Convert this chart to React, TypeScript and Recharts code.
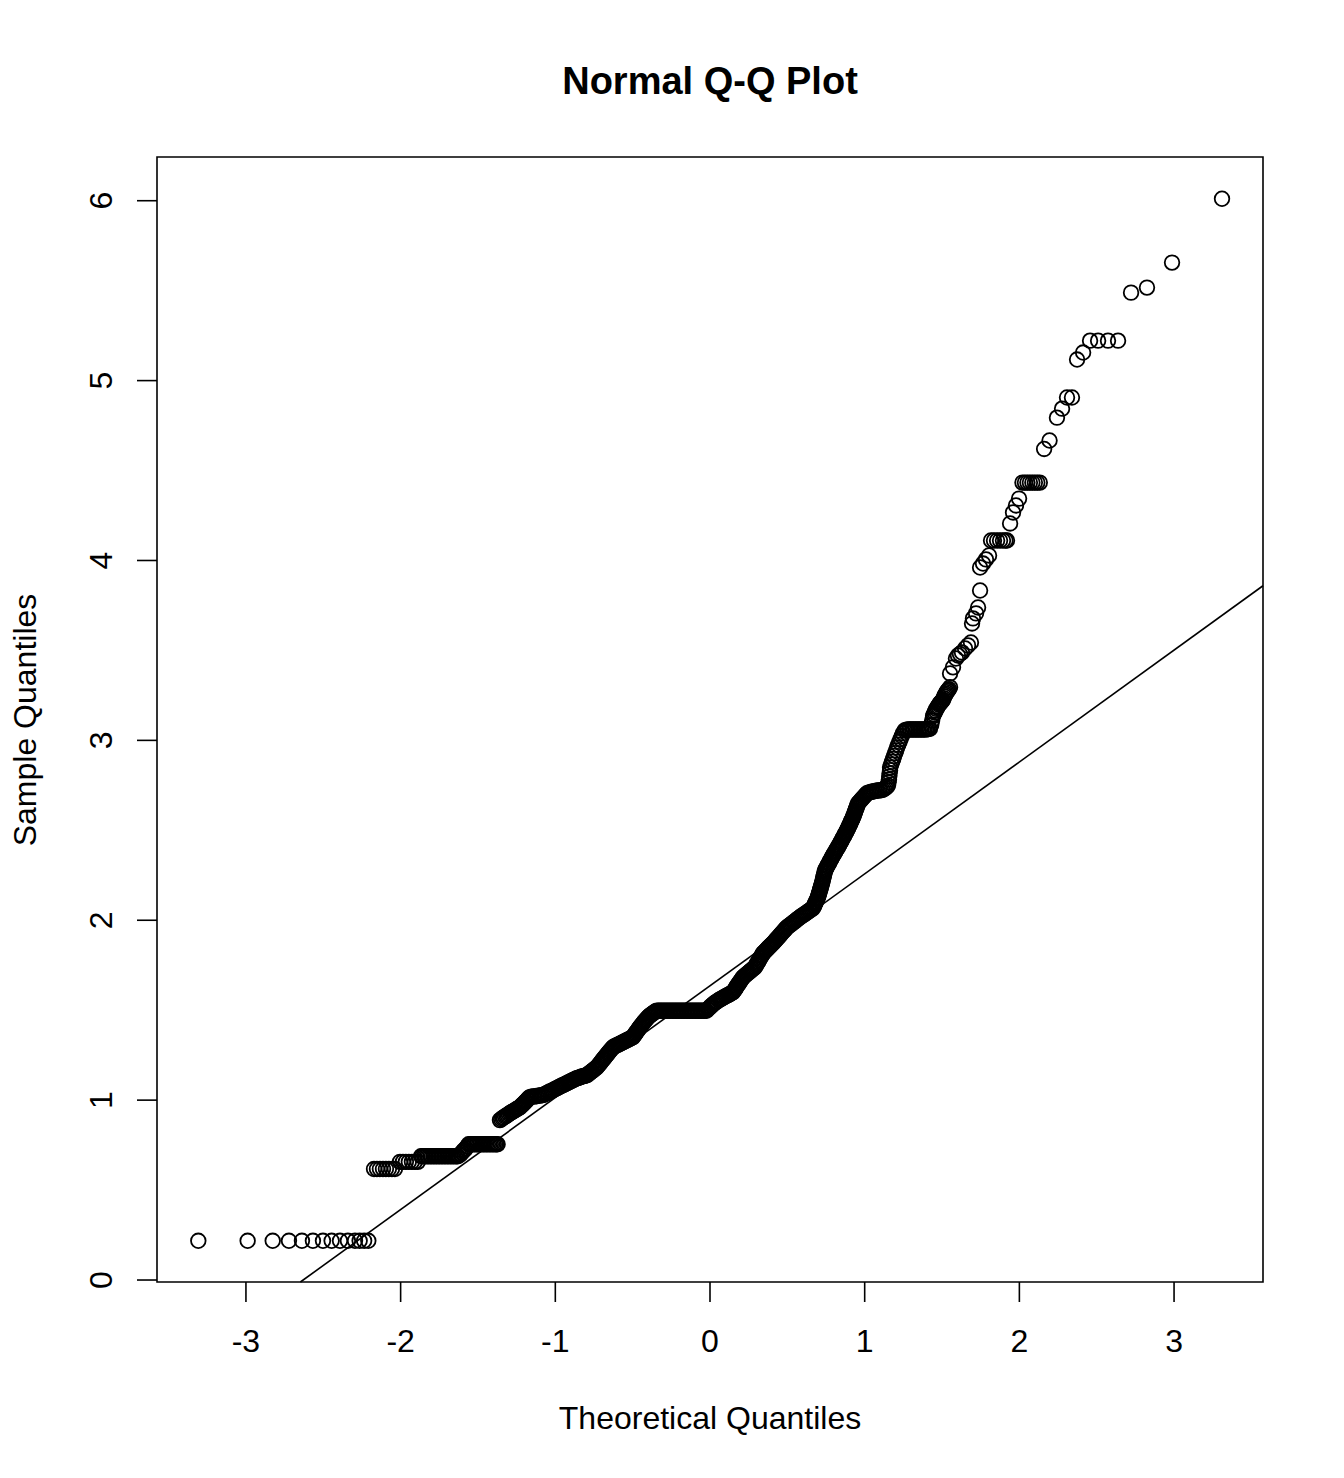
import React from 'react';
import { ScatterChart, Scatter, XAxis, YAxis, ReferenceLine, ReferenceArea } from 'recharts';

const FONT = '"Liberation Sans", Arial, Helvetica, sans-serif';
const W = 1344;
const H = 1478;

const xTicks = [-3, -2, -1, 0, 1, 2, 3];
const yTicks = [0, 1, 2, 3, 4, 5, 6];
const xDomain: [number, number] = [-3.575, 3.575];
const yDomain: [number, number] = [-0.011, 6.243];

// fitted qq line (through the quartiles)
const qqLine = { intercept: 1.636, slope: 0.622 };

// [theoretical quantile, sample quantile]
const lowerTail = [
  [-3.308, 0.218], [-2.989, 0.218], [-2.827, 0.218], [-2.722, 0.218], [-2.638, 0.218],
  [-2.567, 0.218], [-2.502, 0.218], [-2.446, 0.218], [-2.392, 0.218], [-2.341, 0.218],
  [-2.295, 0.218], [-2.265, 0.218], [-2.236, 0.218], [-2.209, 0.218],
];

const lowerSteps = [
  [-2.172, 0.617], [-2.153, 0.617], [-2.134, 0.617], [-2.114, 0.617], [-2.095, 0.617],
  [-2.076, 0.617], [-2.056, 0.617], [-2.037, 0.617],
  [-2.004, 0.657], [-1.985, 0.657], [-1.966, 0.657], [-1.947, 0.657], [-1.927, 0.657],
  [-1.908, 0.657], [-1.889, 0.657],
  [-1.868, 0.688], [-1.858, 0.688], [-1.848, 0.688], [-1.838, 0.688], [-1.828, 0.688],
  [-1.818, 0.688], [-1.808, 0.688], [-1.798, 0.688], [-1.788, 0.688], [-1.778, 0.688],
  [-1.768, 0.688], [-1.758, 0.688], [-1.748, 0.688], [-1.738, 0.688], [-1.728, 0.688],
  [-1.718, 0.688], [-1.708, 0.688], [-1.698, 0.688], [-1.688, 0.688], [-1.678, 0.688],
  [-1.668, 0.688], [-1.658, 0.688], [-1.648, 0.688], [-1.639, 0.688], [-1.630, 0.688],
  [-1.621, 0.694], [-1.612, 0.700], [-1.603, 0.709], [-1.595, 0.718], [-1.586, 0.725],
  [-1.578, 0.732], [-1.569, 0.744],
  [-1.560, 0.755], [-1.550, 0.755], [-1.541, 0.755], [-1.531, 0.755], [-1.522, 0.755],
  [-1.512, 0.755], [-1.503, 0.755], [-1.493, 0.755], [-1.484, 0.755], [-1.474, 0.755],
  [-1.465, 0.755], [-1.455, 0.755], [-1.446, 0.755], [-1.436, 0.755], [-1.427, 0.755],
  [-1.417, 0.755], [-1.408, 0.755], [-1.398, 0.755], [-1.389, 0.755], [-1.381, 0.755],
  [-1.373, 0.755],
];

const lowerBand = [
  [-1.358, 0.889], [-1.350, 0.894], [-1.342, 0.899], [-1.334, 0.904], [-1.325, 0.909],
  [-1.317, 0.914], [-1.309, 0.918], [-1.301, 0.923], [-1.293, 0.928], [-1.285, 0.932],
  [-1.277, 0.936], [-1.269, 0.940], [-1.260, 0.944], [-1.252, 0.949], [-1.244, 0.953],
  [-1.236, 0.957], [-1.228, 0.961], [-1.222, 0.967], [-1.215, 0.972], [-1.209, 0.978],
  [-1.202, 0.983], [-1.196, 0.989], [-1.190, 0.994], [-1.183, 1.000], [-1.177, 1.006],
  [-1.171, 1.012], [-1.164, 1.017], [-1.154, 1.019], [-1.143, 1.020], [-1.133, 1.021],
  [-1.122, 1.022], [-1.112, 1.024], [-1.101, 1.025], [-1.091, 1.027], [-1.080, 1.028],
  [-1.071, 1.032], [-1.062, 1.036], [-1.053, 1.040], [-1.044, 1.044], [-1.035, 1.048],
  [-1.025, 1.051], [-1.016, 1.055], [-1.007, 1.059], [-0.998, 1.063], [-0.989, 1.067],
  [-0.981, 1.071], [-0.973, 1.074], [-0.965, 1.078], [-0.957, 1.081], [-0.949, 1.084],
  [-0.941, 1.087], [-0.933, 1.091], [-0.925, 1.094], [-0.917, 1.098], [-0.909, 1.101],
  [-0.901, 1.105], [-0.893, 1.108], [-0.885, 1.112], [-0.876, 1.115], [-0.868, 1.119],
  [-0.860, 1.122], [-0.852, 1.124], [-0.844, 1.126], [-0.836, 1.129], [-0.828, 1.131],
  [-0.820, 1.133], [-0.811, 1.135], [-0.803, 1.137], [-0.795, 1.139], [-0.787, 1.145],
  [-0.779, 1.150], [-0.771, 1.156], [-0.763, 1.161], [-0.755, 1.167], [-0.747, 1.172],
  [-0.739, 1.178], [-0.731, 1.183], [-0.725, 1.190], [-0.718, 1.197], [-0.712, 1.204],
  [-0.705, 1.211], [-0.699, 1.218], [-0.692, 1.225], [-0.686, 1.232], [-0.679, 1.239],
  [-0.673, 1.246], [-0.666, 1.253], [-0.660, 1.260], [-0.653, 1.267], [-0.647, 1.274],
  [-0.640, 1.280], [-0.634, 1.287], [-0.627, 1.294], [-0.619, 1.298], [-0.611, 1.301],
  [-0.603, 1.305], [-0.594, 1.308], [-0.586, 1.312], [-0.578, 1.315], [-0.570, 1.319],
  [-0.562, 1.322], [-0.554, 1.326], [-0.546, 1.329], [-0.538, 1.333], [-0.530, 1.336],
  [-0.522, 1.340], [-0.514, 1.343], [-0.506, 1.347], [-0.498, 1.350], [-0.493, 1.357],
  [-0.487, 1.364], [-0.482, 1.371], [-0.476, 1.378], [-0.470, 1.385], [-0.464, 1.392],
  [-0.459, 1.399], [-0.453, 1.406], [-0.447, 1.413], [-0.440, 1.420], [-0.434, 1.427],
  [-0.427, 1.434], [-0.421, 1.441], [-0.414, 1.447], [-0.408, 1.454], [-0.401, 1.461],
  [-0.394, 1.466], [-0.387, 1.471], [-0.380, 1.476], [-0.372, 1.480], [-0.365, 1.485],
  [-0.358, 1.490], [-0.350, 1.494],
];

const middlePlateau = [
  [-0.343, 1.497], [-0.333, 1.497], [-0.323, 1.497], [-0.313, 1.497], [-0.303, 1.497],
  [-0.293, 1.497], [-0.283, 1.497], [-0.273, 1.497], [-0.263, 1.497], [-0.253, 1.497],
  [-0.243, 1.497], [-0.233, 1.497], [-0.223, 1.497], [-0.213, 1.497], [-0.203, 1.497],
  [-0.193, 1.497], [-0.183, 1.497], [-0.173, 1.497], [-0.163, 1.497], [-0.153, 1.497],
  [-0.143, 1.497], [-0.133, 1.497], [-0.123, 1.497], [-0.113, 1.497], [-0.103, 1.497],
  [-0.093, 1.497], [-0.083, 1.497], [-0.073, 1.497], [-0.063, 1.497], [-0.053, 1.497],
  [-0.043, 1.497], [-0.033, 1.497], [-0.023, 1.497],
];

const upperBand = [
  [-0.014, 1.505], [-0.005, 1.512], [0.003, 1.520], [0.012, 1.527], [0.021, 1.534],
  [0.030, 1.540], [0.038, 1.545], [0.047, 1.550], [0.056, 1.555], [0.065, 1.560],
  [0.073, 1.564], [0.082, 1.568], [0.090, 1.572], [0.099, 1.576], [0.107, 1.580],
  [0.116, 1.584], [0.124, 1.588], [0.132, 1.592], [0.140, 1.596], [0.149, 1.600],
  [0.154, 1.607], [0.160, 1.614], [0.165, 1.621], [0.170, 1.628], [0.175, 1.635],
  [0.181, 1.642], [0.186, 1.649], [0.192, 1.655], [0.197, 1.662], [0.202, 1.669],
  [0.208, 1.676], [0.213, 1.683], [0.221, 1.689], [0.229, 1.694], [0.236, 1.700],
  [0.244, 1.705], [0.252, 1.711], [0.260, 1.717], [0.267, 1.722], [0.275, 1.728],
  [0.283, 1.734], [0.291, 1.739], [0.296, 1.747], [0.301, 1.755], [0.306, 1.763],
  [0.312, 1.770], [0.317, 1.778], [0.322, 1.786], [0.327, 1.794], [0.333, 1.801],
  [0.338, 1.809], [0.343, 1.817], [0.350, 1.822], [0.356, 1.828], [0.362, 1.833],
  [0.369, 1.839], [0.375, 1.845], [0.381, 1.850], [0.388, 1.856], [0.394, 1.861],
  [0.400, 1.867], [0.407, 1.872], [0.413, 1.878], [0.420, 1.885], [0.426, 1.891],
  [0.433, 1.898], [0.440, 1.904], [0.446, 1.910], [0.452, 1.917], [0.459, 1.923],
  [0.465, 1.929], [0.472, 1.936], [0.478, 1.942], [0.485, 1.948], [0.491, 1.955],
  [0.498, 1.961], [0.506, 1.966], [0.515, 1.972], [0.523, 1.977], [0.532, 1.983],
  [0.540, 1.989], [0.548, 1.994], [0.557, 2.000], [0.565, 2.006], [0.573, 2.011],
  [0.582, 2.017], [0.590, 2.022], [0.599, 2.027], [0.607, 2.032], [0.616, 2.037],
  [0.624, 2.042], [0.632, 2.047], [0.641, 2.052], [0.649, 2.057], [0.657, 2.062],
  [0.666, 2.067], [0.670, 2.075], [0.674, 2.082], [0.678, 2.090], [0.682, 2.097],
  [0.686, 2.105], [0.690, 2.113], [0.694, 2.120], [0.698, 2.128], [0.701, 2.136],
  [0.703, 2.144], [0.706, 2.151], [0.708, 2.159], [0.711, 2.167], [0.714, 2.175],
  [0.716, 2.182], [0.719, 2.190], [0.721, 2.198], [0.724, 2.206], [0.727, 2.215],
  [0.729, 2.224], [0.732, 2.233], [0.734, 2.242], [0.737, 2.251], [0.739, 2.260],
  [0.742, 2.269], [0.744, 2.278], [0.749, 2.285], [0.753, 2.292], [0.758, 2.300],
  [0.762, 2.307], [0.767, 2.314], [0.771, 2.321], [0.776, 2.329], [0.780, 2.336],
  [0.785, 2.343], [0.789, 2.350], [0.794, 2.358], [0.799, 2.366], [0.805, 2.373],
  [0.810, 2.381], [0.815, 2.389], [0.820, 2.397], [0.826, 2.404], [0.831, 2.412],
  [0.836, 2.420], [0.841, 2.428], [0.846, 2.435], [0.850, 2.442], [0.855, 2.450],
  [0.859, 2.457], [0.864, 2.464], [0.868, 2.471], [0.873, 2.479], [0.877, 2.486],
  [0.882, 2.493], [0.886, 2.500], [0.890, 2.507], [0.894, 2.514], [0.898, 2.522],
  [0.902, 2.529], [0.906, 2.536], [0.909, 2.543], [0.913, 2.551], [0.917, 2.558],
  [0.921, 2.565], [0.925, 2.572], [0.928, 2.580], [0.931, 2.588], [0.935, 2.596],
  [0.938, 2.603], [0.941, 2.611], [0.944, 2.619], [0.948, 2.627], [0.951, 2.634],
  [0.954, 2.642], [0.957, 2.650], [0.965, 2.657], [0.972, 2.664], [0.979, 2.671],
  [0.986, 2.678], [0.994, 2.685], [1.001, 2.692], [1.008, 2.699], [1.015, 2.706],
];

const shoulder = [
  [1.025, 2.709], [1.035, 2.712], [1.045, 2.714], [1.055, 2.716], [1.065, 2.718],
  [1.075, 2.720], [1.085, 2.721], [1.095, 2.722], [1.105, 2.723], [1.115, 2.725],
  [1.125, 2.730], [1.135, 2.735], [1.143, 2.742], [1.151, 2.750],
  [1.154, 2.767], [1.157, 2.783], [1.159, 2.800], [1.161, 2.817], [1.164, 2.834],
  [1.164, 2.850], [1.171, 2.866], [1.177, 2.881], [1.184, 2.897], [1.190, 2.913],
  [1.197, 2.929], [1.203, 2.944], [1.209, 2.960], [1.217, 2.976], [1.225, 2.992],
  [1.232, 3.008], [1.240, 3.024], [1.248, 3.040],
  [1.258, 3.055], [1.268, 3.058], [1.278, 3.060], [1.288, 3.060], [1.298, 3.060],
  [1.308, 3.060], [1.318, 3.060], [1.328, 3.060], [1.338, 3.060], [1.348, 3.060],
  [1.358, 3.060], [1.368, 3.060], [1.378, 3.060], [1.388, 3.060], [1.397, 3.061],
  [1.405, 3.062], [1.414, 3.063], [1.422, 3.065],
  [1.430, 3.085], [1.436, 3.110], [1.442, 3.135], [1.447, 3.145], [1.452, 3.155],
  [1.458, 3.165], [1.463, 3.175], [1.469, 3.183], [1.474, 3.190], [1.480, 3.198],
  [1.485, 3.205], [1.491, 3.210], [1.496, 3.215], [1.501, 3.220], [1.506, 3.225],
  [1.511, 3.235], [1.515, 3.245], [1.520, 3.253], [1.525, 3.260], [1.530, 3.268],
  [1.535, 3.275], [1.540, 3.280], [1.545, 3.285], [1.552, 3.295],
];

const upperScatter = [
  [1.552, 3.372], [1.571, 3.406], [1.590, 3.455], [1.603, 3.472], [1.616, 3.480],
  [1.629, 3.489], [1.649, 3.511], [1.668, 3.528], [1.687, 3.544],
  [1.694, 3.650], [1.700, 3.678], [1.720, 3.706], [1.733, 3.739], [1.746, 3.833],
  [1.746, 3.961], [1.765, 3.983], [1.784, 4.006], [1.804, 4.028],
  [1.817, 4.111], [1.836, 4.111], [1.856, 4.111], [1.875, 4.111], [1.894, 4.111],
  [1.910, 4.111], [1.920, 4.111],
  [1.940, 4.206], [1.959, 4.267], [1.978, 4.306], [1.998, 4.344],
  [2.020, 4.433], [2.036, 4.433], [2.052, 4.433], [2.068, 4.433], [2.084, 4.433],
  [2.100, 4.433], [2.116, 4.433], [2.132, 4.433],
];

const upperTail = [
  [2.160, 4.620], [2.195, 4.667], [2.243, 4.794], [2.276, 4.844], [2.308, 4.906],
  [2.340, 4.906], [2.373, 5.117], [2.412, 5.156], [2.457, 5.222], [2.509, 5.222],
  [2.573, 5.222], [2.638, 5.222], [2.722, 5.489], [2.825, 5.517], [2.987, 5.656],
  [3.310, 6.011],
];

const points = [
  ...lowerTail, ...lowerSteps, ...lowerBand, ...middlePlateau,
  ...upperBand, ...shoulder, ...upperScatter, ...upperTail,
].map(([x, y]) => ({ x, y }));

// qq line from the bottom of the plot region to its right edge
const lineStartX = (yDomain[0] - qqLine.intercept) / qqLine.slope;
const lineSegment = [
  { x: lineStartX, y: yDomain[0] },
  { x: xDomain[1], y: qqLine.intercept + qqLine.slope * xDomain[1] },
];

const Ring = (props: any) => (
  <circle cx={props.cx} cy={props.cy} r={7.3} fill="none" stroke="#000" strokeWidth={1.8} />
);

const YTick = ({ x, y, payload }: any) => (
  <text
    x={x - 23}
    y={y}
    transform={`rotate(-90, ${x - 23}, ${y})`}
    textAnchor="middle"
    fontSize={32}
    fontFamily={FONT}
    fill="#000"
  >
    {payload.value}
  </text>
);

export default function App() {
  return (
    <div style={{ position: 'absolute', left: 0, top: 0, width: W, height: H, background: '#fff' }}>
      <ScatterChart width={W} height={H} margin={{ top: 157, right: 81, bottom: 136, left: 97 }}>
        <XAxis
          type="number"
          dataKey="x"
          domain={xDomain}
          ticks={xTicks}
          allowDataOverflow
          height={60}
          axisLine={false}
          tickLine={{ stroke: '#000', strokeWidth: 1.6 }}
          tickSize={20}
          tickMargin={27}
          tick={{ fontSize: 32, fill: '#000', fontFamily: FONT }}
        />
        <YAxis
          type="number"
          dataKey="y"
          domain={yDomain}
          ticks={yTicks}
          allowDataOverflow
          width={60}
          axisLine={false}
          tickLine={{ stroke: '#000', strokeWidth: 1.6 }}
          tickSize={20}
          tickMargin={2}
          tick={<YTick />}
        />
        <ReferenceArea
          x1={xDomain[0]}
          x2={xDomain[1]}
          y1={yDomain[0]}
          y2={yDomain[1]}
          fill="none"
          fillOpacity={0}
          stroke="#000"
          strokeWidth={1.6}
          ifOverflow="visible"
        />
        <ReferenceLine segment={lineSegment} stroke="#000" strokeWidth={1.6} ifOverflow="visible" />
        <Scatter data={points} shape={<Ring />} isAnimationActive={false} />
      </ScatterChart>
      <svg
        width={W}
        height={H}
        style={{ position: 'absolute', left: 0, top: 0, pointerEvents: 'none' }}
      >
        <text x={710} y={94} textAnchor="middle" fontSize={38} fontWeight="bold" fontFamily={FONT} fill="#000">
          Normal Q-Q Plot
        </text>
        <text x={710} y={1429} textAnchor="middle" fontSize={32} fontFamily={FONT} fill="#000">
          Theoretical Quantiles
        </text>
        <text
          x={36}
          y={720}
          transform="rotate(-90, 36, 720)"
          textAnchor="middle"
          fontSize={32}
          fontFamily={FONT}
          fill="#000"
        >
          Sample Quantiles
        </text>
      </svg>
    </div>
  );
}
